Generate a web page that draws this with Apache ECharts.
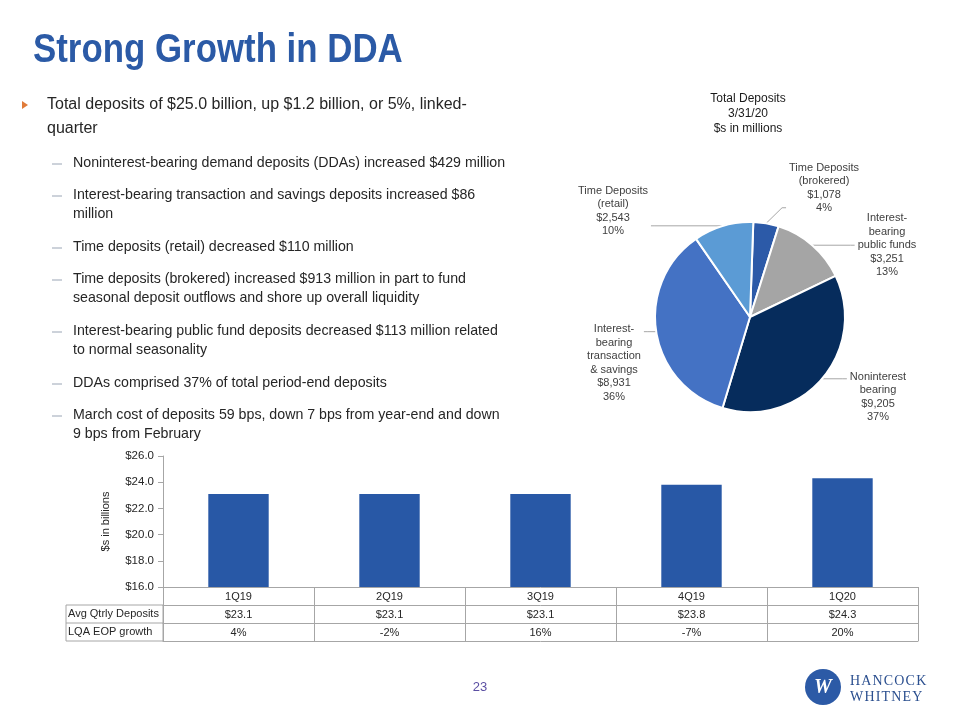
<!DOCTYPE html>
<html><head><meta charset="utf-8">
<script src="https://cdn.jsdelivr.net/npm/echarts@6/dist/echarts.min.js"></script>
<style>html,body{margin:0;padding:0;background:#fff}#c{width:960px;height:720px}</style>
</head><body><div id="c"></div>
<script>
// ---- data ----
const pieNames = ['Time Deposits\n(brokered)', 'Interest-\nbearing\npublic funds', 'Noninterest\nbearing', 'Interest-\nbearing\ntransaction\n& savings', 'Time Deposits\n(retail)'];
const pieValues = [1078, 3251, 9205, 8931, 2543];
const pieColors = ['#2C5AA8', '#A5A5A5', '#062C5C', '#4472C4', '#5B9BD5'];
const quarters = ['1Q19', '2Q19', '3Q19', '4Q19', '1Q20'];
const avgDeposits = [23.1, 23.1, 23.1, 23.8, 24.3];
const lqaGrowth = ['4%', '-2%', '16%', '-7%', '20%'];
const rowLabels = ['Avg Qtrly Deposits', 'LQA EOP growth'];
const yMin = 16, yMax = 26, yStep = 2;
const bulletMain = ['Total deposits of $25.0 billion, up $1.2 billion, or 5%, linked-', 'quarter'];
const subBullets = [
  ['Noninterest-bearing demand deposits (DDAs) increased $429 million'],
  ['Interest-bearing transaction and savings deposits increased $86', 'million'],
  ['Time deposits (retail) decreased $110 million'],
  ['Time deposits (brokered) increased $913 million in part to fund', 'seasonal deposit outflows and shore up overall liquidity'],
  ['Interest-bearing public fund deposits decreased $113 million related', 'to normal seasonality'],
  ['DDAs comprised 37% of total period-end deposits'],
  ['March cost of deposits 59 bps, down 7 bps from year-end and down', '9 bps from February']
];

// ---- layout / style ----
const FONT = 'Liberation Sans';
const GRID = {left: 163, right: 42, top: 456, bottom: 133};
const AXIS_Y = 720 - GRID.bottom;
const ROW = 18;
const LINE = '#A6A6A6';
// label block centres for pie labels (layout only)
const PIE_LABEL_POS = [[824, 188], [887, 245], [878, 397], [614, 363], [613, 211]];
const PIE_CENTER = [750, 317];

const chart = echarts.init(document.getElementById('c'), null, {renderer: 'canvas'});

const g = [];
g.push({type: 'text', x: 33, y: 30, scaleX: 0.85, style: {text: 'Strong Growth in DDA', fill: '#2B5AA6', font: 'bold 41px ' + FONT, verticalAlign: 'top'}});
g.push({type: 'polygon', shape: {points: [[22, 101], [22, 109], [28, 105]]}, style: {fill: '#E07B39'}});
bulletMain.forEach((t, i) => g.push({type: 'text', left: 47, top: 97 + i * 24, style: {text: t, fill: '#262626', font: '16px ' + FONT}}));
const subTops = [156, 188, 240, 272, 324, 376, 408];
subBullets.forEach((lines, k) => {
  g.push({type: 'line', shape: {x1: 52, y1: subTops[k] + 8, x2: 62, y2: subTops[k] + 8}, style: {stroke: '#9AA5B5', lineWidth: 1}});
  lines.forEach((t, i) => g.push({type: 'text', left: 73, top: subTops[k] + i * 19.5, style: {text: t, fill: '#262626', font: '14.2px ' + FONT}}));
});
g.push({type: 'text', x: 748, y: 91, style: {text: 'Total Deposits\n3/31/20\n$s in millions', fill: '#1A1A1A', font: '12px ' + FONT, align: 'center', verticalAlign: 'top', lineHeight: 15}});
// table: left column
g.push({type: 'rect', shape: {x: 66, y: AXIS_Y + ROW, width: GRID.left - 66, height: ROW * 2}, style: {fill: 'none', stroke: LINE, lineWidth: 1}});
g.push({type: 'line', shape: {x1: 66, y1: AXIS_Y + ROW * 2, x2: GRID.left, y2: AXIS_Y + ROW * 2}, style: {stroke: LINE, lineWidth: 1}});
rowLabels.forEach((t, i) => g.push({type: 'text', left: 68, top: AXIS_Y + ROW * (i + 1) + 3, style: {text: t, fill: '#262626', font: '11px ' + FONT}}));
// page number & logo
g.push({type: 'text', x: 480, y: 687, style: {text: '23', fill: '#5B4FA3', font: '13px ' + FONT, align: 'center', verticalAlign: 'middle'}});
g.push({type: 'circle', shape: {cx: 823, cy: 687, r: 18}, style: {fill: '#2C5AA6'}});
g.push({type: 'text', x: 823, y: 688, style: {text: 'W', fill: '#fff', font: 'bold italic 20px "Liberation Serif"', align: 'center', verticalAlign: 'middle'}});
g.push({type: 'text', left: 850, top: 674, style: {text: 'H\u200AA\u200AN\u200AC\u200AO\u200AC\u200AK', fill: '#2B4F8F', font: '14px "Liberation Serif"'}});
g.push({type: 'text', left: 850, top: 690, style: {text: 'W\u200AH\u200AI\u200AT\u200AN\u200AE\u200AY', fill: '#2B4F8F', font: '14px "Liberation Serif"'}});

const axisBase = (data, offset) => ({
  type: 'category', gridIndex: 0, position: 'bottom', offset: offset, data: data,
  axisLine: {show: true, lineStyle: {color: LINE}},
  axisTick: {show: true, length: ROW, interval: 0, lineStyle: {color: LINE}},
  axisLabel: {show: true, interval: 0, margin: 4, color: '#262626', fontSize: 11, fontFamily: FONT}
});

// pie label placement: label block at a fixed spot, guide line straight from slice edge to label side
function pieLabelLayout(p) {
  const c = PIE_LABEL_POS[p.dataIndex];
  const w = p.labelRect.width, h = p.labelRect.height;
  const edge = p.labelLinePoints ? p.labelLinePoints[0] : null;
  const out = {x: c[0], y: c[1], align: 'center', verticalAlign: 'middle', hideOverlap: false};
  if (edge) {
    const left = c[0] < PIE_CENTER[0];
    const ax = left ? c[0] + w / 2 + 3 : c[0] - w / 2 - 3;
    const ay = Math.min(Math.max(edge[1], c[1] - h / 2 + 6), c[1] + h / 2 - 6);
    out.labelLinePoints = [[edge[0], edge[1]], [ax + (left ? 4 : -4), ay], [ax, ay]];
  }
  return out;
}

chart.setOption({
  animation: false,
  textStyle: {fontFamily: FONT},
  graphic: g,
  grid: GRID,
  xAxis: [
    axisBase(quarters, 0),
    axisBase(avgDeposits.map(v => '$' + v.toFixed(1)), ROW),
    axisBase(lqaGrowth, ROW * 2),
    Object.assign(axisBase(quarters, ROW * 3), {axisTick: {show: false}, axisLabel: {show: false}})
  ],
  yAxis: {
    type: 'value', min: yMin, max: yMax, interval: yStep,
    name: '$s in billions', nameLocation: 'middle', nameGap: 52, nameRotate: 90,
    nameTextStyle: {color: '#262626', fontSize: 11, fontFamily: FONT},
    axisLine: {show: true, lineStyle: {color: LINE}},
    axisTick: {show: true, length: 5, lineStyle: {color: LINE}},
    axisLabel: {color: '#262626', fontSize: 11.5, fontFamily: FONT, margin: 9, formatter: v => '$' + v.toFixed(1)},
    splitLine: {show: false}
  },
  series: [
    {type: 'bar', xAxisIndex: 0, data: avgDeposits, barWidth: '40%', itemStyle: {color: '#2858A6'}},
    {
      type: 'pie', center: PIE_CENTER, radius: 95, startAngle: 88, clockwise: true,
      percentPrecision: 0, avoidLabelOverlap: false,
      itemStyle: {borderColor: '#fff', borderWidth: 2},
      label: {
        position: 'outside', color: '#404040', fontSize: 11, fontFamily: FONT,
        formatter: p => p.name.split('\n').concat(['$' + p.value.toLocaleString('en-US'), p.percent + '%']).map(l => '{c|' + l + '}').join('\n'),
        rich: {c: {align: 'center', fontSize: 11, lineHeight: 13.5, color: '#404040', fontFamily: FONT}}
      },
      labelLine: {show: true, length: 8, length2: 10, lineStyle: {color: LINE, width: 1}},
      labelLayout: pieLabelLayout,
      data: pieValues.map((v, i) => ({name: pieNames[i], value: v, itemStyle: {color: pieColors[i]}}))
    }
  ]
});
</script></body></html>
